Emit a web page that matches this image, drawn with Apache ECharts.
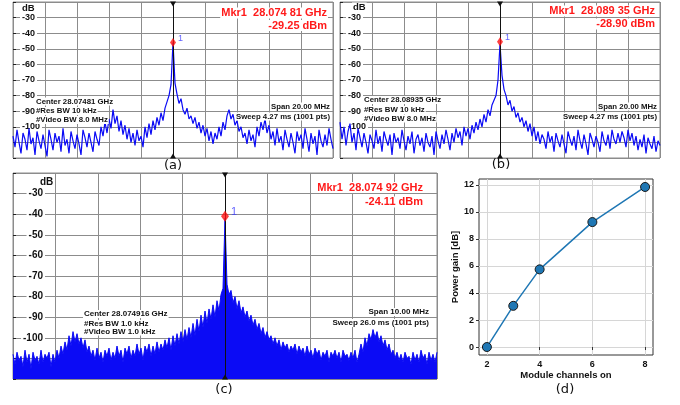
<!DOCTYPE html>
<html><head><meta charset="utf-8">
<script src="https://cdn.jsdelivr.net/npm/echarts@6/dist/echarts.min.js"></script>
<style>html,body{margin:0;padding:0;background:#fff}#c{width:680px;height:405px}</style>
</head><body><div id="c"></div><script>
// ---- Spectrum traces (dB), equally spaced points across the span ----
const traceA = [
-106,-113,-102,-110,-117,-104,-108,-115,-101,-111,
-107,-118,-103,-109,-114,-105,-112,-119,-102,-108,
-115,-104,-110,-106,-116,-101,-112,-108,-117,-103,
-109,-114,-105,-111,-118,-102,-107,-113,-104,-110,
-116,-103,-108,-112,-100,-106,-97,-104,-95,-101,
-89,-98,-93,-103,-96,-105,-99,-108,-101,-110,
-104,-112,-102,-109,-106,-113,-100,-107,-98,-105,
-96,-102,-94,-99,-91,-96,-88,-84,-80,-73,
-46,
-72,-79,-85,-82,-89,-92,-88,-95,-93,
-98,-94,-101,-97,-104,-99,-106,-101,-109,-103,
-111,-104,-108,-100,-106,-97,-102,-93,-89,-95,
-92,-99,-96,-103,-100,-107,-104,-111,-102,-109,
-105,-113,-100,-106,-97,-102,-95,-104,-99,-108,
-103,-112,-101,-110,-106,-115,-102,-108,-113,-104,
-110,-117,-103,-109,-105,-114,-101,-108,-116,-104,
-111,-106,-118,-102,-109,-113,-105,-112,-101,-108,-114
];
const traceB = [
-97,-108,-100,-112,-103,-98,-110,-104,-115,-101,
-107,-113,-104,-110,-117,-105,-109,-114,-102,-111,
-106,-116,-103,-108,-112,-105,-118,-104,-110,-107,
-114,-102,-109,-115,-106,-111,-103,-117,-108,-105,
-112,-107,-116,-104,-110,-113,-106,-118,-103,-109,
-114,-105,-111,-102,-108,-115,-104,-110,-101,-107,
-103,-112,-100,-106,-101,-108,-99,-104,-97,-102,
-95,-100,-92,-97,-89,-93,-86,-83,-80,-70,
-47,
-67,-76,-80,-86,-83,-90,-87,-94,-91,
-97,-94,-100,-96,-103,-98,-106,-100,-109,-103,
-111,-105,-108,-114,-103,-110,-106,-116,-104,-109,
-113,-105,-111,-117,-103,-108,-112,-106,-115,-102,
-109,-114,-105,-111,-118,-104,-108,-113,-106,-110,
-116,-103,-109,-112,-105,-114,-102,-108,-111,-104,
-110,-103,-107,-113,-102,-109,-104,-112,-106,-115,
-108,-113,-105,-117,-107,-111,-114,-106,-116,-109,-112
];
const traceC = [
-108,-113,-107,-111,-109,-114,-106,-112,-108,-115,
-107,-111,-109,-113,-106,-112,-108,-110,-107,-114,
-108,-112,-106,-110,-104,-108,-102,-106,-99,-104,
-97,-102,-98,-103,-100,-105,-101,-107,-104,-109,
-106,-111,-105,-110,-107,-112,-106,-109,-105,-111,
-107,-110,-104,-109,-106,-112,-105,-108,-104,-110,
-106,-109,-103,-108,-105,-111,-104,-107,-103,-109,
-104,-108,-102,-107,-103,-106,-101,-105,-100,-106,
-99,-104,-98,-103,-97,-102,-96,-101,-95,-100,
-93,-99,-91,-97,-89,-95,-87,-93,-86,-91,
-84,-90,-82,-87,-79,-76,
-42,
-74,-79,-77,
-83,-80,-86,-82,-88,-85,-90,-87,-92,-89,
-94,-91,-96,-93,-98,-95,-100,-97,-101,-99,
-103,-100,-104,-101,-106,-102,-105,-103,-107,-104,
-106,-103,-108,-104,-107,-105,-109,-104,-108,-106,
-110,-105,-108,-106,-111,-107,-109,-106,-112,-107,
-109,-106,-110,-107,-112,-106,-109,-108,-111,-107,
-110,-106,-112,-108,-103,-107,-100,-104,-98,-101,
-96,-100,-97,-102,-99,-104,-101,-106,-103,-108,
-106,-110,-107,-111,-108,-112,-107,-110,-109,-113,
-107,-111,-108,-112,-106,-110,-108,-113,-107,-111,
-108,-112,-107
];
// Marker levels on the dB axis
const markerA = -46, markerB = -45.5, markerC = -41;
// Y axis ticks (dB)
const dbMin = -120, dbMax = -20, dbStep = 10;
const dbLabelRange = [-100, -30];
// Panel (d)
const channels = [2, 3, 4, 6, 8];
const gainDb = [0, 3.05, 5.75, 9.25, 11.85];
const dTicksX = [2, 4, 6, 8];
const dTicksY = [0, 2, 4, 6, 8, 10, 12];

const BLUE = '#0b0bf5';
const GRIDC = '#8c8c8c';
const FF = '"Liberation Sans", Arial, sans-serif';

const pairs = arr => arr.map((v, i) => [i, v]);
const peakIdx = arr => arr.indexOf(Math.max(...arr));

function specX(g, n) {
  return {type: 'value', gridIndex: g, min: 0, max: n - 1, interval: (n - 1) / 10,
    axisLine: {show: false}, axisTick: {show: false}, axisLabel: {show: false},
    splitLine: {show: true, lineStyle: {color: GRIDC, width: 1}}};
}
function specY(g, fs, margin, align) {
  return {type: 'value', gridIndex: g, min: dbMin, max: dbMax, interval: dbStep,
    axisLine: {show: false},
    axisTick: {show: true, inside: true, length: 3, lineStyle: {color: '#222'}},
    axisLabel: {inside: true, margin: margin, align: align, fontSize: fs, fontWeight: 'bold',
      color: '#111', fontFamily: FF, backgroundColor: '#fff', padding: [0, 2, 0, 2],
      formatter: v => (v >= dbLabelRange[0] && v <= dbLabelRange[1]) ? String(v) : ''},
    splitLine: {show: true, lineStyle: {color: GRIDC, width: 1}}};
}
function traceSeries(g, arr, area, w) {
  const s = {type: 'line', xAxisIndex: g, yAxisIndex: g, data: pairs(arr), showSymbol: false,
    symbol: 'none', lineStyle: {color: BLUE, width: w}, z: 3, silent: true};
  if (area) s.areaStyle = {color: BLUE, opacity: 1, origin: 'start'};
  return s;
}
function centerSeries(g, arr) {
  const c = peakIdx(arr);
  return {type: 'line', xAxisIndex: g, yAxisIndex: g, data: [], z: 2, silent: true,
    markLine: {silent: true, symbol: ['none', 'none'], label: {show: false},
      lineStyle: {color: '#111', width: 1, type: 'solid'}, data: [{xAxis: c}]},
    markPoint: {silent: true, label: {show: false}, itemStyle: {color: '#111'},
      data: [
        {coord: [c, dbMax], symbol: 'triangle', symbolRotate: 180, symbolSize: [6, 5], symbolOffset: [0, 2]},
        {coord: [c, dbMin], symbol: 'triangle', symbolSize: [6, 5], symbolOffset: [0, -2]}
      ]}};
}
function markerSeries(g, arr, level, size, fs) {
  return {type: 'scatter', xAxisIndex: g, yAxisIndex: g, z: 5, silent: true,
    data: [[peakIdx(arr), level]], symbol: 'diamond', symbolSize: size,
    itemStyle: {color: '#ff1010'},
    label: {show: true, formatter: '1', position: 'right', distance: 2, offset: [0, -4],
      color: '#3838ff', fontSize: fs, fontFamily: FF}};
}

function txt(x, y, text, o) {
  o = o || {};
  const al = o.align || 'left';
  return {type: 'text', x: x, y: y, z: o.z || 10, silent: true,
    style: {text: text, fill: o.color || '#111',
      font: (o.weight || 'bold') + ' ' + (o.size || 8) + 'px ' + (o.family || FF),
      align: al, textAlign: al, verticalAlign: 'middle', textVerticalAlign: 'middle',
      backgroundColor: o.bg === undefined ? '#fff' : o.bg, padding: o.pad || [0, 1, 0, 1]}};
}

const RED = '#ff1a1a';
const DJ = '"DejaVu Sans", sans-serif';
const graphics = [
  // (a)
  txt(328, 13, 'Mkr1  28.074 81 GHz', {align: 'right', color: RED, size: 11}),
  txt(328, 25.5, '-29.25 dBm', {align: 'right', color: RED, size: 11}),
  txt(35, 101.5, 'Center 28.07481 GHz', {size: 7.8}),
  txt(35, 111, '#Res BW 10 kHz', {size: 7.8}),
  txt(35, 120, '#Video BW 8.0 MHz', {size: 7.8}),
  txt(331, 106.5, 'Span 20.00 MHz', {align: 'right', size: 7.8}),
  txt(331, 116.5, 'Sweep 4.27 ms (1001 pts)', {align: 'right', size: 7.8}),
  txt(21, 8.5, 'dB', {size: 9.5}),
  txt(173, 166, '(a)', {align: 'center', size: 13, weight: 'normal', family: DJ, bg: 'transparent'}),
  // (b)
  txt(656, 11, 'Mkr1  28.089 35 GHz', {align: 'right', color: RED, size: 11}),
  txt(656, 24, '-28.90 dBm', {align: 'right', color: RED, size: 11}),
  txt(363, 100, 'Center 28.08935 GHz', {size: 7.8}),
  txt(363, 110, '#Res BW 10 kHz', {size: 7.8}),
  txt(363, 118.5, '#Video BW 8.0 MHz', {size: 7.8}),
  txt(658, 106.5, 'Span 20.00 MHz', {align: 'right', size: 7.8}),
  txt(658, 116.5, 'Sweep 4.27 ms (1001 pts)', {align: 'right', size: 7.8}),
  txt(352, 7.5, 'dB', {size: 9.5}),
  txt(501, 165, '(b)', {align: 'center', size: 13, weight: 'normal', family: DJ, bg: 'transparent'}),
  // (c)
  txt(424, 187.5, 'Mkr1  28.074 92 GHz', {align: 'right', color: RED, size: 11}),
  txt(424, 202, '-24.11 dBm', {align: 'right', color: RED, size: 11}),
  txt(83, 314, 'Center 28.074916 GHz', {size: 8}),
  txt(83, 324, '#Res BW 1.0 kHz', {size: 8}),
  txt(83, 331.5, '#Video BW 1.0 kHz', {size: 8}),
  txt(430, 312, 'Span 10.00 MHz', {align: 'right', size: 8}),
  txt(430, 323, 'Sweep 26.0 ms (1001 pts)', {align: 'right', size: 8}),
  txt(39, 182, 'dB', {size: 10}),
  txt(224, 390, '(c)', {align: 'center', size: 13, weight: 'normal', family: DJ, bg: 'transparent'}),
  // (d)
  txt(565, 390, '(d)', {align: 'center', size: 13, weight: 'normal', family: DJ, bg: 'transparent'})
];

const chart = echarts.init(document.getElementById('c'), null, {renderer: 'canvas'});
chart.setOption({
  animation: false,
  backgroundColor: '#fff',
  textStyle: {fontFamily: FF},
  grid: [
    {left: 13, top: 2, width: 320, height: 156, show: true, borderColor: GRIDC, borderWidth: 1, backgroundColor: '#fff'},
    {left: 340, top: 2, width: 320, height: 156, show: true, borderColor: GRIDC, borderWidth: 1, backgroundColor: '#fff'},
    {left: 13, top: 173, width: 424, height: 206, show: true, borderColor: GRIDC, borderWidth: 1, backgroundColor: '#fff'},
    {left: 479, top: 179, width: 174, height: 176, show: true, borderColor: '#333', borderWidth: 1, backgroundColor: '#fff'}
  ],
  xAxis: [
    specX(0, traceA.length), specX(1, traceB.length), specX(2, traceC.length),
    {type: 'value', gridIndex: 3, min: 1.7, max: 8.3,
      axisLine: {show: false},
      axisTick: {show: true, length: 3, customValues: dTicksX, lineStyle: {color: '#333'}},
      axisLabel: {customValues: dTicksX, fontSize: 9, fontWeight: 'bold', color: '#111', margin: 5, fontFamily: FF},
      splitLine: {show: true, lineStyle: {color: '#d6d6d6'}},
      name: 'Module channels on', nameLocation: 'middle', nameGap: 15,
      nameTextStyle: {fontSize: 9.5, fontWeight: 'bold', color: '#111', fontFamily: FF}}
  ],
  yAxis: [
    specY(0, 9, 7, 'left'), specY(1, 9, 6, 'left'), specY(2, 10, 32, 'right'),
    {type: 'value', gridIndex: 3, min: -0.59, max: 12.44,
      axisLine: {show: false},
      axisTick: {show: true, length: 3, customValues: dTicksY, lineStyle: {color: '#333'}},
      axisLabel: {customValues: dTicksY, fontSize: 9, fontWeight: 'bold', color: '#111', margin: 5, fontFamily: FF},
      splitLine: {show: true, lineStyle: {color: '#d6d6d6'}},
      name: 'Power gain [dB]', nameLocation: 'middle', nameGap: 19, nameRotate: 90,
      nameTextStyle: {fontSize: 9.5, fontWeight: 'bold', color: '#111', fontFamily: FF}}
  ],
  series: [
    centerSeries(0, traceA), traceSeries(0, traceA, false, 1.2), markerSeries(0, traceA, markerA, [6, 9], 9),
    centerSeries(1, traceB), traceSeries(1, traceB, false, 1.2), markerSeries(1, traceB, markerB, [6, 9], 9),
    centerSeries(2, traceC), traceSeries(2, traceC, true, 1), markerSeries(2, traceC, markerC, [8, 11], 11),
    {type: 'line', xAxisIndex: 3, yAxisIndex: 3, data: channels.map((c, i) => [c, gainDb[i]]),
      symbol: 'circle', symbolSize: 9, lineStyle: {color: '#1f77b4', width: 1.5},
      itemStyle: {color: '#1f77b4', borderColor: '#1a1a1a', borderWidth: 1}, z: 3}
  ],
  graphic: graphics
});
</script></body></html>
